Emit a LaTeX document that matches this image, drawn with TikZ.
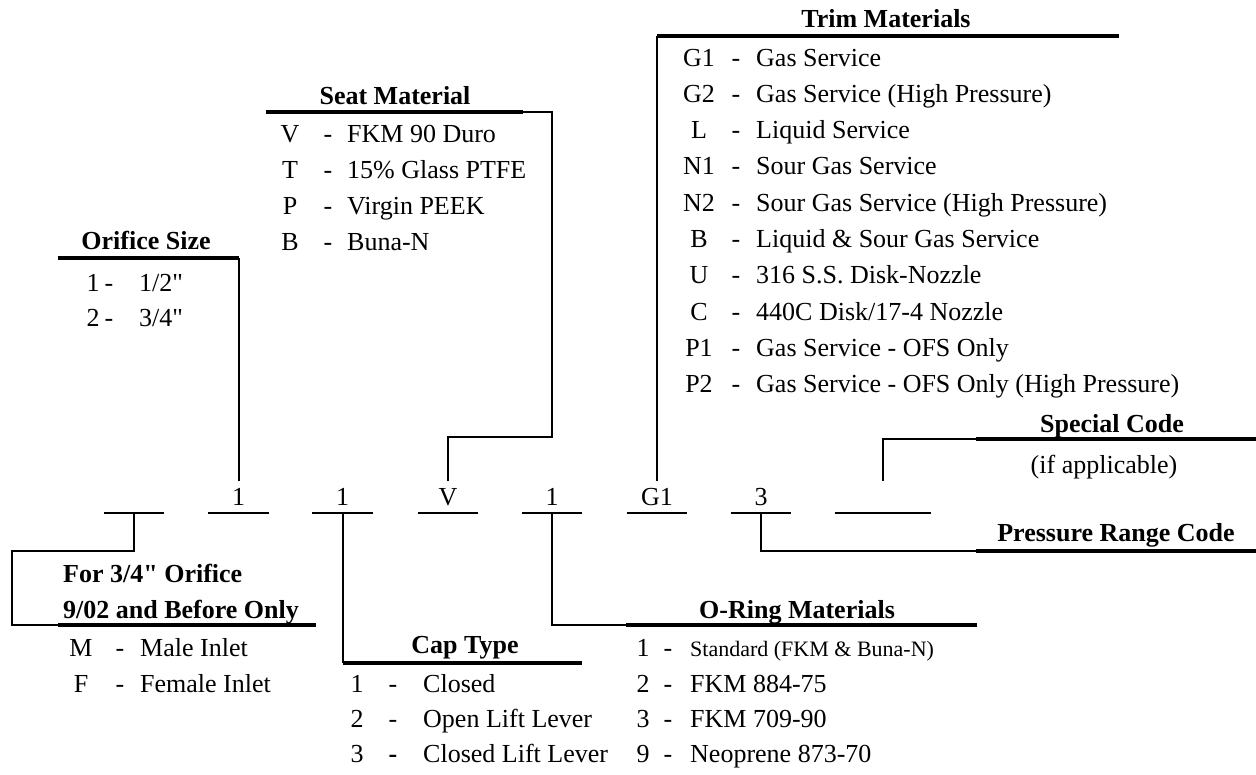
\documentclass[tikz,border=0pt]{standalone}
\usepackage{fontspec}
\setmainfont{Liberation Serif}[Ligatures=TeXOff]
\begin{document}
\begin{tikzpicture}[x=1pt,y=-1pt,
  txt/.style={font=\fontsize{26}{31}\selectfont, inner sep=0pt, anchor=base},
  dsc/.style={txt, anchor=base west},
  ttl/.style={font=\fontsize{26}{31}\selectfont\bfseries, inner sep=0pt, anchor=base},
  thinln/.style={line width=2pt},
  thickln/.style={line width=4pt},
  slot/.style={font=\fontsize{26}{31}\selectfont, minimum width=60pt, inner xsep=0pt, inner ysep=7pt, text height=18pt, text depth=0pt, anchor=south},
]
\useasboundingbox (0,0) rectangle (1256,774);

% ---- code slots ----
\node[slot] (s0) at (134,513) {};
\node[slot] (s1) at (238.5,513) {1};
\node[slot] (s2) at (342.5,513) {1};
\node[slot] (s3) at (448,513) {V};
\node[slot] (s4) at (552,513) {1};
\node[slot] (s5) at (657,513) {G1};
\node[slot] (s6) at (761,513) {3};
\node[slot, minimum width=96pt] (s7) at (883,513) {};
\foreach \s in {s0,s1,s2,s3,s4,s5,s6,s7}
  \draw[thinln] (\s.south west) -- (\s.south east);

% ---- Orifice Size ----
\node[ttl] (orT) at (146,249) {Orifice Size};
\coordinate (orL) at (58,258);
\coordinate (orR) at (238.5,258);
\draw[thickln] (orL) -- (orR);
\draw[thinln] (s1.north) -- (orR);
\node[txt] (or1c) at (93,291) {1};
\node[txt] (or1d) at (109,291) {-};
\node[dsc] (or1t) at (139,291) {1/2"};
\node[txt] (or2c) at (93,326) {2};
\node[txt] (or2d) at (109,326) {-};
\node[dsc] (or2t) at (139,326) {3/4"};

% ---- Seat Material ----
\node[ttl] (seT) at (395,104) {Seat Material};
\coordinate (seL) at (266,112);
\coordinate (seR) at (523,112);
\coordinate (seC) at (552,112);
\coordinate (seD) at (552,437);
\coordinate (seE) at (448,437);
\draw[thickln] (seL) -- (seR);
\draw[thinln] (seR) -- (seC) -- (seD) -- (seE) -- (s3.north);
\foreach \c/\d [count=\i] in {V/FKM 90 Duro, T/15\% Glass PTFE, P/Virgin PEEK, B/Buna-N}{
  \pgfmathsetmacro\yy{142+36*(\i-1)}
  \node[txt] (sc\i) at (290,\yy) {\c};
  \node[txt] (sd\i) at (328,\yy) {-};
  \node[dsc] (st\i) at (347,\yy) {\d};
}

% ---- Trim Materials ----
\node[ttl] (trT) at (886,27) {Trim Materials};
\coordinate (trL) at (657,36);
\coordinate (trR) at (1119,36);
\draw[thickln] (trL) -- (trR);
\draw[thinln] (s5.north) -- (trL);
\foreach \c/\d [count=\i] in {G1/Gas Service, G2/Gas Service (High Pressure), L/Liquid Service, N1/Sour Gas Service, N2/Sour Gas Service (High Pressure), B/Liquid \& Sour Gas Service, U/316 S.S. Disk-Nozzle, C/{440C Disk/17-4 Nozzle}, P1/Gas Service - OFS Only, P2/Gas Service - OFS Only (High Pressure)}{
  \pgfmathsetmacro\yy{66+36.3*(\i-1)}
  \node[txt] (tc\i) at (699,\yy) {\c};
  \node[txt] (td\i) at (736,\yy) {-};
  \node[dsc] (tt\i) at (756,\yy) {\d};
}

% ---- Special Code ----
\node[ttl] (spT) at (1112,432) {Special Code};
\node[txt] (spN) at (1104,473) {(if applicable)};
\coordinate (spA) at (883,439);
\coordinate (spB) at (976,439);
\coordinate (spC) at (1256,439);
\draw[thinln] (s7.north) -- (spA) -- (spB);
\draw[thickln] (spB) -- (spC);

% ---- Pressure Range Code ----
\node[ttl] (prT) at (1116,541) {Pressure Range Code};
\coordinate (prA) at (761,551);
\coordinate (prB) at (976,551);
\coordinate (prC) at (1256,551);
\draw[thinln] (s6.south) -- (prA) -- (prB);
\draw[thickln] (prB) -- (prC);

% ---- For 3/4" Orifice ----
\node[ttl, anchor=base west] (foT1) at (63,582) {For 3/4" Orifice};
\node[ttl, anchor=base west] (foT2) at (63,618) {9/02 and Before Only};
\coordinate (foA) at (134,551);
\coordinate (foB) at (12,551);
\coordinate (foC) at (12,625);
\coordinate (foD) at (58,625);
\coordinate (foE) at (316,625);
\draw[thinln] (s0.south) -- (foA) -- (foB) -- (foC) -- (foD);
\draw[thickln] (foD) -- (foE);
\node[txt] (fo1c) at (81,656) {M};
\node[txt] (fo1d) at (120,656) {-};
\node[dsc] (fo1t) at (140,656) {Male Inlet};
\node[txt] (fo2c) at (81,692) {F};
\node[txt] (fo2d) at (120,692) {-};
\node[dsc] (fo2t) at (140,692) {Female Inlet};

% ---- Cap Type ----
\node[ttl] (caT) at (465,653) {Cap Type};
\coordinate (caA) at (342.5,663);
\coordinate (caB) at (582,663);
\draw[thinln] (s2.south) -- (caA);
\draw[thickln] (caA) -- (caB);
\node[txt] (ca1c) at (357,692) {1};
\node[txt] (ca1d) at (393,692) {-};
\node[dsc] (ca1t) at (423,692) {Closed};
\node[txt] (ca2c) at (357,727) {2};
\node[txt] (ca2d) at (393,727) {-};
\node[dsc] (ca2t) at (423,727) {Open Lift Lever};
\node[txt] (ca3c) at (357,762) {3};
\node[txt] (ca3d) at (393,762) {\bfseries -};
\node[dsc] (ca3t) at (423,762) {Closed Lift Lever};

% ---- O-Ring Materials ----
\node[ttl] (oT) at (797,618) {O-Ring Materials};
\coordinate (oA) at (552,625);
\coordinate (oB) at (626,625);
\coordinate (oC) at (977,625);
\draw[thinln] (s4.south) -- (oA) -- (oB);
\draw[thickln] (oB) -- (oC);
\node[txt] (o1c) at (643,656) {1};
\node[txt] (o1d) at (668,656) {-};
\node[dsc, font=\fontsize{22}{26}\selectfont] (o1t) at (690,656) {Standard (FKM \& Buna-N)};
\node[txt] (o2c) at (643,692) {2};
\node[txt] (o2d) at (668,692) {-};
\node[dsc] (o2t) at (690,692) {FKM 884-75};
\node[txt] (o3c) at (643,727) {3};
\node[txt] (o3d) at (668,727) {-};
\node[dsc] (o3t) at (690,727) {FKM 709-90};
\node[txt] (o9c) at (643,762) {9};
\node[txt] (o9d) at (668,762) {-};
\node[dsc] (o9t) at (690,762) {Neoprene 873-70};
\end{tikzpicture}
\end{document}
